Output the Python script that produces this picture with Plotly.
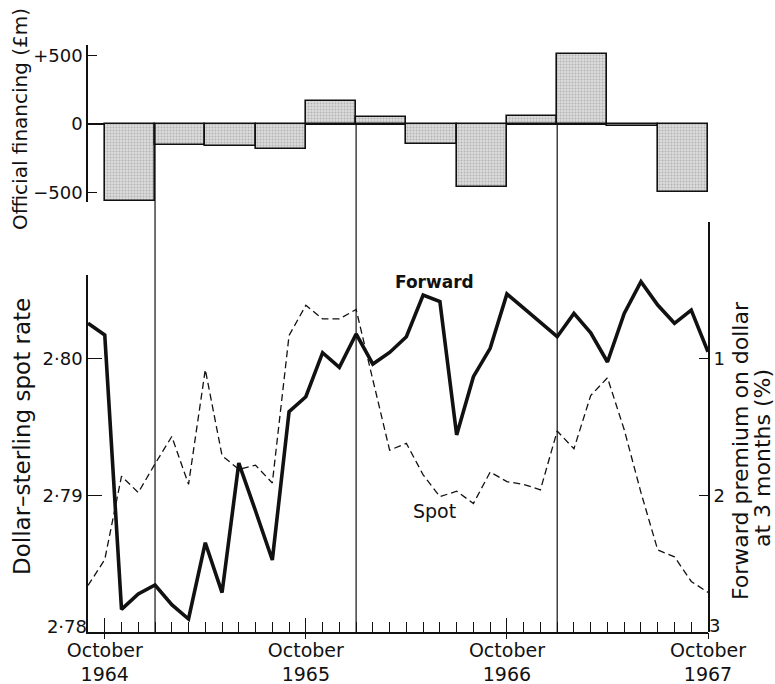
import plotly.graph_objects as go

# ---------------- data ----------------
# monthly observations, Sep 1964 .. Oct 1967 (month index 0 = October 1964)
months = list(range(-1, 37))
spot = [2.7834, 2.7853, 2.7914, 2.7902, 2.7923, 2.7943, 2.7908, 2.7992, 2.7929, 2.7919,
        2.7922, 2.7909, 2.8017, 2.8039, 2.8029, 2.8029, 2.8036, 2.7985, 2.7933, 2.7938,
        2.7915, 2.7899, 2.7903, 2.7894, 2.7917, 2.7910, 2.7908, 2.7904, 2.7947, 2.7934,
        2.7973, 2.7986, 2.7948, 2.7902, 2.7860, 2.7855, 2.7837, 2.7829]
forward = [0.742, 0.827, 2.834, 2.722, 2.656, 2.800, 2.905, 2.347, 2.712, 1.764,
           2.115, 2.473, 1.388, 1.279, 0.957, 1.064, 0.820, 1.040, 0.955, 0.840,
           0.535, 0.583, 1.558, 1.132, 0.925, 0.527, 0.630, 0.732, 0.840, 0.669,
           0.812, 1.025, 0.669, 0.437, 0.608, 0.742, 0.645, 0.950]
# quarterly official financing (£m), Q4 1964 .. Q3 1967
financing = [-565, -153, -160, -182, 170, 49, -148, -458, 58, 511, -12, -494]
quarter_mid = [1.5 + 3 * i for i in range(len(financing))]

xtick_vals = [0, 12, 24, 36]
xtick_text = ["October<br>1964", "October<br>1965", "October<br>1966", "October<br>1967"]
spot_ticks = [2.79, 2.80]
spot_text = ["2·79", "2·80"]
spot_base, spot_base_text = 2.78, "2·78"
fwd_ticks = [0, 1, 2]
fwd_base = 3
fin_ticks = [-500, 0, 500]
fin_text = ["\u2212500", "0", "+500"]
year_breaks = [3, 15, 27]   # January of 1965, 1966, 1967

# ---------------- layout geometry (pixels) ----------------
W, H = 775, 684
L, R, T, B = 88, 67, 45, 52
PH = H - T - B
PW = W - L - R


def py(ypx):
    return (H - B - ypx) / PH


def px(xpx):
    return (xpx - L) / PW


FONT = "DejaVu Sans"
BLACK = "#111111"

bottom_px = H - B          # 632
unit_px = 136.7            # pixels per 1 % premium (= 0.01 on spot)
top_dom = [py(202), 1.0]
spot_dom = [0, py(275)]
fwd_dom = [0, py(222)]
spot_range = [2.78, 2.78 + (bottom_px - 275) / unit_px * 0.01]
fwd_range = [3, 3 - (bottom_px - 222) / unit_px]
fin_scale = 0.137          # px per £m
zero_px = 124
fin_range = [-(202 - zero_px) / fin_scale, (zero_px - 45) / fin_scale]

fig = go.Figure()

fig.add_trace(go.Bar(
    x=quarter_mid, y=financing, width=3, xaxis="x", yaxis="y",
    marker=dict(color="#d4d4d4", line=dict(color=BLACK, width=1.6),
                pattern=dict(shape=".", fgcolor="#8a8a8a", bgcolor="#dcdcdc",
                             size=3, solidity=0.35)),
    showlegend=False, hoverinfo="skip"))

fig.add_trace(go.Scatter(
    x=months, y=spot, xaxis="x", yaxis="y2", mode="lines",
    line=dict(color=BLACK, width=1.3, dash="7px,4px"), showlegend=False))

fig.add_trace(go.Scatter(
    x=months, y=forward, xaxis="x", yaxis="y3", mode="lines",
    line=dict(color=BLACK, width=3.6), showlegend=False))

# empty helper traces so the overlay axes (base labels, outer tick stubs) get drawn
for xa, ya in [("x", "y4"), ("x", "y5"), ("x2", "y2")]:
    fig.add_trace(go.Scatter(x=[], y=[], xaxis=xa, yaxis=ya, mode="lines",
                             showlegend=False, hoverinfo="skip"))

# vertical year-break lines from bottom axis up to the financing zero line
zero_paper = top_dom[0] + (top_dom[1] - top_dom[0]) * (0 - fin_range[0]) / (fin_range[1] - fin_range[0])
shapes = []
for xb in year_breaks:
    shapes.append(dict(type="line", xref="x", yref="paper", x0=xb, x1=xb, y0=0, y1=zero_paper,
                       line=dict(color=BLACK, width=1.2), layer="above"))

annotations = [
    dict(text="Official financing (£m)", textangle=-90, xref="paper", yref="paper",
         x=px(20), y=py(119), showarrow=False, font=dict(family=FONT, size=20, color=BLACK),
         xanchor="center", yanchor="middle"),
    dict(text="Dollar–sterling spot rate", textangle=-90, xref="paper", yref="paper",
         x=px(22), y=py(437), showarrow=False, font=dict(family=FONT, size=23, color=BLACK),
         xanchor="center", yanchor="middle"),
    dict(text="Forward premium on dollar", textangle=-90, xref="paper", yref="paper",
         x=px(740), y=py(451), showarrow=False, font=dict(family=FONT, size=22, color=BLACK),
         xanchor="center", yanchor="middle"),
    dict(text="at 3 months (%)", textangle=-90, xref="paper", yref="paper",
         x=px(762), y=py(458), showarrow=False, font=dict(family=FONT, size=22, color=BLACK),
         xanchor="center", yanchor="middle"),
    dict(text="<b>Forward</b>", xref="x", yref="y3", x=19.65, y=0.437, showarrow=False,
         font=dict(family=FONT, size=17, color=BLACK), xanchor="center", yanchor="middle"),
    dict(text="Spot", xref="x", yref="y3", x=19.7, y=2.113, showarrow=False,
         font=dict(family=FONT, size=19, color=BLACK), xanchor="center", yanchor="middle"),
]

yfont = dict(family=FONT, size=18, color=BLACK)

fig.update_layout(
    width=W, height=H, margin=dict(l=L, r=R, t=T, b=B, autoexpand=False),
    paper_bgcolor="white", plot_bgcolor="rgba(0,0,0,0)",
    font=dict(family=FONT, size=18, color=BLACK),
    bargap=0, showlegend=False, shapes=shapes, annotations=annotations,
    xaxis=dict(domain=[0, 1], anchor="y2", range=[-1, 36], showgrid=False, zeroline=False,
               showline=True, linecolor=BLACK, linewidth=1.6,
               tickmode="array", tickvals=xtick_vals, ticktext=xtick_text,
               ticks="inside", ticklen=14, tickwidth=1.4, tickcolor=BLACK,
               tickfont=dict(family=FONT, size=19, color=BLACK), ticklabelstandoff=0,
               minor=dict(tickmode="linear", tick0=0, dtick=1, ticks="inside", ticklen=10,
                          tickwidth=1.2, tickcolor=BLACK, showgrid=False)),
    xaxis2=dict(domain=[0, 1], anchor="y2", overlaying="x", range=[-1, 36], showgrid=False,
                zeroline=False, showline=False, tickmode="array", tickvals=xtick_vals,
                ticks="outside", ticklen=6, tickwidth=1.4, tickcolor=BLACK, showticklabels=False),
    yaxis=dict(domain=top_dom, anchor="x", range=fin_range, showgrid=False,
               zeroline=True, zerolinecolor=BLACK, zerolinewidth=1.6,
               showline=True, linecolor=BLACK, linewidth=1.6,
               tickmode="array", tickvals=fin_ticks, ticktext=fin_text,
               ticks="inside", ticklen=9, tickwidth=1.4, tickcolor=BLACK, tickfont=yfont),
    yaxis2=dict(domain=spot_dom, anchor="x", range=spot_range, showgrid=False, zeroline=False,
                showline=True, linecolor=BLACK, linewidth=1.6,
                tickmode="array", tickvals=spot_ticks, ticktext=spot_text,
                ticks="inside", ticklen=14, tickwidth=1.4, tickcolor=BLACK, tickfont=yfont),
    yaxis3=dict(domain=fwd_dom, anchor="x", side="right", range=fwd_range, showgrid=False,
                zeroline=False, showline=True, linecolor=BLACK, linewidth=1.6,
                tickmode="array", tickvals=fwd_ticks, ticktext=[str(v) for v in fwd_ticks],
                ticks="inside", ticklen=9, tickwidth=1.4, tickcolor=BLACK, tickfont=yfont),
    # base labels (2·78 and 3) sit slightly above the bottom corner, as in the original
    yaxis4=dict(domain=spot_dom, anchor="x", overlaying="y2", range=spot_range, showgrid=False,
                zeroline=False, showline=False, tickmode="array", tickvals=[spot_base],
                ticktext=[spot_base_text], ticks="", ticklabelshift=-5, tickfont=yfont),
    yaxis5=dict(domain=fwd_dom, anchor="x", overlaying="y3", side="right", range=fwd_range,
                showgrid=False, zeroline=False, showline=False, tickmode="array",
                tickvals=[fwd_base], ticktext=[str(fwd_base)], ticks="",
                ticklabelshift=6, tickfont=yfont),
)

fig.write_html("out.html", config={"displayModeBar": False},
               post_script="document.body.style.margin='0';")
